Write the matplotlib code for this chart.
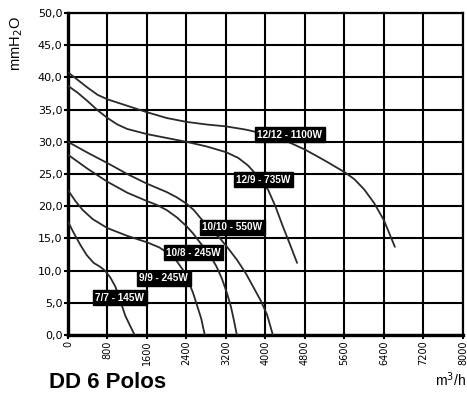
import numpy as np
import matplotlib
matplotlib.use('Agg')
import matplotlib.pyplot as plt

# curves: flow (m3/h) vs pressure (mmH2O)
q_1212 = [0, 200, 400, 600, 800, 1200, 1600, 2000, 2400, 2800, 3200, 3600, 4000, 4400, 4800, 5200, 5600, 5800, 6000, 6200, 6400, 6620]
p_1212 = [40.8, 39.6, 38.4, 37.3, 36.6, 35.6, 34.6, 33.7, 33.1, 32.7, 32.4, 31.9, 31.2, 30.2, 28.8, 27.1, 25.3, 24.2, 22.6, 20.5, 17.8, 13.7]

q_129 = [0, 200, 400, 600, 800, 1000, 1200, 1600, 2000, 2400, 2800, 3200, 3450, 3650, 3850, 4050, 4200, 4350, 4500, 4640]
p_129 = [38.7, 37.6, 36.3, 34.9, 33.7, 32.7, 32.0, 31.2, 30.6, 30.0, 29.3, 28.4, 27.5, 26.3, 24.6, 22.6, 20.0, 16.9, 14.0, 11.2]

q_1010 = [0, 400, 800, 1200, 1600, 2000, 2200, 2400, 2550, 2700, 2900, 3080, 3250, 3420, 3600, 3750, 3900, 4030, 4150]
p_1010 = [30.0, 28.3, 26.7, 25.0, 23.5, 22.2, 21.4, 20.4, 19.4, 18.0, 16.3, 15.0, 13.4, 11.7, 9.6, 7.5, 5.4, 3.2, 0.0]

q_108 = [0, 400, 800, 1200, 1600, 1800, 2000, 2200, 2400, 2530, 2700, 2810, 2920, 3010, 3120, 3220, 3300, 3360, 3420]
p_108 = [28.0, 25.8, 23.8, 22.1, 20.8, 20.2, 19.4, 18.3, 16.9, 15.8, 14.1, 12.9, 11.8, 10.6, 8.7, 6.5, 4.4, 2.3, 0.0]

q_99 = [0, 150, 300, 500, 800, 1200, 1600, 1850, 2050, 2200, 2330, 2430, 2530, 2610, 2700, 2770]
p_99 = [22.5, 20.8, 19.4, 18.0, 16.6, 15.4, 14.4, 13.6, 12.6, 11.5, 10.1, 8.5, 6.6, 4.7, 2.5, 0.0]

q_77 = [0, 120, 250, 380, 520, 650, 750, 860, 960, 1060, 1160, 1260, 1350]
p_77 = [17.6, 15.8, 14.0, 12.4, 11.2, 10.6, 10.0, 8.9, 7.5, 5.3, 3.0, 1.4, 0.0]

labels = ['12/12 - 1100W', '12/9 - 735W', '10/10 - 550W', '10/8 - 245W', '9/9 - 245W', '7/7 - 145W']
label_x = [4494, 3957, 3330, 2540, 1943, 1050]
label_y = [31.1, 24.1, 16.7, 12.8, 8.85, 5.8]

x_ticks = [0, 800, 1600, 2400, 3200, 4000, 4800, 5600, 6400, 7200, 8000]
y_ticks = [0, 5, 10, 15, 20, 25, 30, 35, 40, 45, 50]

fig = plt.figure(figsize=(4.67, 3.96), dpi=100)
ax = fig.add_axes([0.1456, 0.154, 0.8458, 0.813])

curves = [(q_1212, p_1212), (q_129, p_129), (q_1010, p_1010),
          (q_108, p_108), (q_99, p_99), (q_77, p_77)]
for q, p in curves:
    ax.plot(q, p, color='#2a2a2a', lw=1.3, solid_capstyle='round',
            solid_joinstyle='round', zorder=3)

for txt, x, y in zip(labels, label_x, label_y):
    ax.text(x, y, txt, ha='center', va='center', color='white', fontsize=7.2,
            family=['Liberation Sans Narrow', 'Liberation Sans'], weight='bold',
            bbox=dict(boxstyle='square,pad=0.25', fc='black', ec='black'), zorder=4)

ax.set_xlim(0, 8000)
ax.set_ylim(0, 50)
ax.set_xticks(x_ticks)
ax.set_yticks(y_ticks)
ax.set_xticklabels([str(v) for v in x_ticks], rotation=90, fontsize=7, family='DejaVu Sans')
ax.set_yticklabels([f'{v:.1f}'.replace('.', ',') for v in y_ticks], fontsize=8, family='DejaVu Sans')
ax.tick_params(length=3, width=1.5, pad=1)
ax.grid(True, color='black', lw=1.5)
for s in ax.spines.values():
    s.set_linewidth(1.6)
ax.spines['left'].set_linewidth(2.4)
ax.spines['bottom'].set_linewidth(2.4)

fig.text(0.035, 0.89, 'mmH$_2$O', rotation=90, ha='center', va='center', fontsize=10.5,
         family='Liberation Sans')
fig.text(0.997, 0.04, 'm$^3$/h', ha='right', va='center', fontsize=10, family='Liberation Sans')
fig.text(0.105, 0.035, 'DD 6 Polos', ha='left', va='center', fontsize=16, weight='bold',
         family='Liberation Sans')

plt.savefig('out.png', dpi=100)
